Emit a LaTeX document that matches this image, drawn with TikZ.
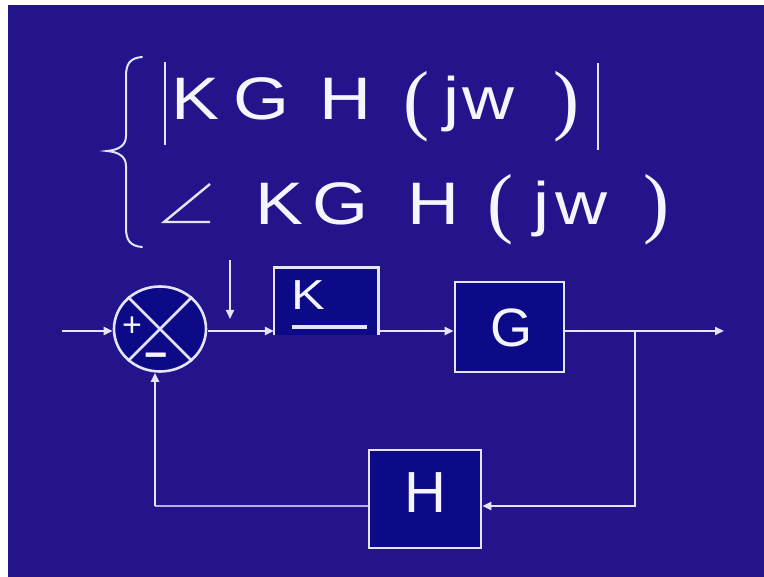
\documentclass[tikz,border=0pt]{standalone}
\usepackage{fontspec}
\usepackage{graphicx}
\setmainfont{Liberation Sans}
\newfontfamily\parfont{Liberation Serif}
\usetikzlibrary{arrows.meta,shapes.geometric}
\definecolor{bg}{RGB}{35,20,140}
\definecolor{boxfill}{RGB}{12,10,135}
\definecolor{ln}{RGB}{228,228,255}
\definecolor{txtc}{RGB}{245,245,255}
\newcommand{\SX}[1]{\scalebox{1.2}[1]{#1}}
\begin{document}
\begin{tikzpicture}[x=1pt,y=-1pt,
  line/.style={draw=ln, line width=2.6pt},
  thinline/.style={draw=ln, line width=2pt},
  blk/.style={draw=ln, line width=2.6pt, fill=boxfill, inner sep=0pt},
  arr/.style={-{Triangle[length=9pt,width=8pt]}},
  eq/.style={text=txtc, inner sep=0pt, anchor=base, font=\fontsize{60}{60}\selectfont},
  par/.style={text=txtc, inner sep=0pt, anchor=base, font=\parfont\fontsize{78}{78}\selectfont},
  lbl/.style={text=txtc, inner sep=0pt, anchor=base}]
\useasboundingbox (0,0) rectangle (764,577);
\fill[white] (0,0) rectangle (764,577);
\fill[bg] (8,5) rectangle (764,577);

% brace
\draw[ln, line width=2pt, line cap=round]
  (142,57) .. controls (130,58) and (126,64) .. (126,76)
  -- (126,136) .. controls (126,146) and (118,150) .. (107,151)
  .. controls (118,152) and (126,156) .. (126,166)
  -- (126,228) .. controls (126,240) and (130,246) .. (142,247);

% line 1: |KGH(jw)|
\draw[ln, line width=2.6pt] (165,62) -- (165,145);
\node[eq] (k1) at (196,120) {\SX{K}};
\node[eq] (g1) at (262,120) {\SX{G}};
\node[eq] (h1) at (345,120) {\SX{H}};
\node[par] (lp1) at (416,126) {(};
\node[eq] (j1) at (451,120) {\SX{j}};
\node[eq] (w1) at (488,120) {\SX{w}};
\node[par] (rp1) at (566,126) {)};
\draw[ln, line width=2.6pt] (598,63) -- (598,150);

% line 2: angle KGH(jw)
\draw[ln, line width=2.4pt, line join=miter] (210,184) -- (164,222) -- (210,222);
\node[eq] (k2) at (280,225) {\SX{K}};
\node[eq] (g2) at (340,225) {\SX{G}};
\node[eq] (h2) at (433,225) {\SX{H}};
\node[par] (lp2) at (500,229) {(};
\node[eq] (j2) at (541,225) {\SX{j}};
\node[eq] (w2) at (581,225) {\SX{w}};
\node[par] (rp2) at (656,229) {)};

% summing junction
\node[ellipse, draw=ln, line width=2.6pt, fill=boxfill, minimum width=92pt, minimum height=85pt, inner sep=0pt] (sum) at (160,329) {};
\draw[line] (sum.45) -- (sum.225);
\draw[line] (sum.135) -- (sum.-45);
\node[lbl, font=\fontsize{34}{34}\selectfont] (plus) at (132,337) {+};
\node[lbl, font=\bfseries\fontsize{40}{40}\selectfont] (minus) at (156,369) {−};

% K block (open at bottom)
\node[fill=boxfill, inner sep=0pt, minimum width=104pt, minimum height=67pt] (kbox) at (326,301.5) {};
\draw[line, line join=miter] (kbox.south west) -- (kbox.north west) -- (kbox.north east) -- (kbox.south east);
\node[lbl, font=\fontsize{42}{42}\selectfont] (klbl) at (308,310) {\SX{K}};
\draw[draw=ln, line width=4pt] (292,327) -- (367,327);

% G and H blocks
\node[blk, minimum width=109pt, minimum height=90pt] (gbox) at (509.5,327) {};
\node[lbl, font=\fontsize{54}{54}\selectfont] (glbl) at (511,347) {G};
\node[blk, minimum width=112pt, minimum height=98pt] (hbox) at (425,499) {};
\node[lbl, font=\fontsize{58}{58}\selectfont] (hlbl) at (425,513) {H};

% coordinates
\coordinate (in) at (62,331);
\coordinate (fwd) at (208,331);
\coordinate (br) at (635,331);
\coordinate (out) at (724,331);
\coordinate (fbr) at (635,506);
\coordinate (fbl) at (155,506);
\coordinate (dtop) at (230,260);
\coordinate (dbot) at (230,319);

% connectors
\draw[line, arr] (in) -- (in -| sum.west);
\draw[line, arr] (fwd) -- (fwd -| kbox.west);
\draw[line, arr] (fwd -| kbox.east) -- (fwd -| gbox.west);
\draw[line, arr] (fwd -| gbox.east) -- (out);
\draw[line, arr, line join=miter] (br) -- (fbr) -- (fbr -| hbox.east);
\draw[draw=ln!75!bg, line width=1.6pt] (fbr -| hbox.west) -- (fbl);
\draw[line, arr] (fbl) -- (fbl |- sum.south);
\draw[thinline, arr] (dtop) -- (dbot);
\end{tikzpicture}
\end{document}
